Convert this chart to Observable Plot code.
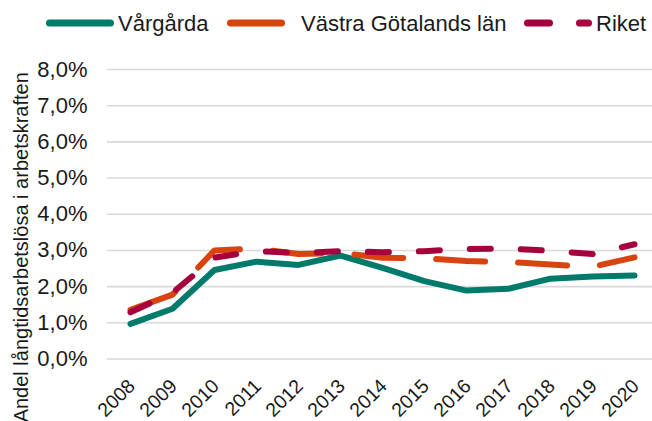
<!DOCTYPE html>
<html>
<head>
<meta charset="utf-8">
<script src="https://cdn.jsdelivr.net/npm/d3@7"></script>
<script src="https://cdn.jsdelivr.net/npm/@observablehq/plot@0.6"></script>
<style>
  html, body { margin: 0; padding: 0; background: #fff; }
  body { width: 652px; height: 421px; overflow: hidden; font-family: "Liberation Sans", Arial, sans-serif; color: #1a1a1a; }
  #legend svg, #chart svg { display: block; }
</style>
</head>
<body>
<div id="legend"></div>
<div id="chart"></div>
<script>
// ---- data ----
const years = [2008, 2009, 2010, 2011, 2012, 2013, 2014, 2015, 2016, 2017, 2018, 2019, 2020];
const vargarda = [0.97, 1.39, 2.46, 2.69, 2.60, 2.86, 2.52, 2.15, 1.89, 1.94, 2.22, 2.28, 2.31];
const vastraGotaland = [1.36, 1.78, 3.00, 3.05, 2.90, 2.93, 2.80, 2.78, 2.71, 2.68, 2.61, 2.55, 2.81];
const riket = [1.29, 1.83, 2.80, 2.98, 2.93, 2.98, 2.95, 2.98, 3.04, 3.05, 2.99, 2.90, 3.17];
const seriesNames = ["Vårgårda", "Västra Götalands län", "Riket"];
const yTicks = [0, 1, 2, 3, 4, 5, 6, 7, 8];
const yTitle = "Andel långtidsarbetslösa i arbetskraften";

// ---- styles ----
const colors = ["#007A6B", "#D8430F", "#A6003D"];
const dashes = [null, "49,33", "21,30"];
const legendDashes = [null, "51,40", "22,30"];
const legendX = [46, 227, 524];   // legend sample left edges (layout)
const seriesValues = [vargarda, vastraGotaland, riket];

const series = seriesNames.map((name, s) => ({
  name, color: colors[s], dash: dashes[s], legendDash: legendDashes[s],
  rows: years.map((year, i) => ({year, value: seriesValues[s][i]}))
}));

const fmt = d => d.toFixed(1).replace(".", ",") + "%";

// ---- legend ----
const lsvg = d3.select("#legend").append("svg")
  .attr("width", 652).attr("height", 44)
  .style("font-family", "'Liberation Sans', Arial, sans-serif");
series.forEach((s, k) => {
  const x0 = legendX[k];
  lsvg.append("line")
    .attr("x1", x0 + 3.5).attr("x2", x0 + 64.5).attr("y1", 23).attr("y2", 23)
    .attr("stroke", s.color).attr("stroke-width", 7)
    .attr("stroke-linecap", "round")
    .attr("stroke-dasharray", s.legendDash);
  lsvg.append("text")
    .attr("x", x0 + (k === 1 ? 74 : 72)).attr("y", 23).attr("dy", "0.36em")
    .attr("font-size", 22).attr("fill", "#1a1a1a")
    .text(s.name);
});

// ---- chart ----
const chart = Plot.plot({
  width: 652,
  height: 377,
  marginLeft: 107,
  marginRight: 0,
  marginTop: 25,
  marginBottom: 62.5,
  style: {fontFamily: "'Liberation Sans', Arial, sans-serif", background: "#fff", color: "#1a1a1a"},
  x: {type: "point", domain: years, range: [128, 635], padding: 0, axis: null},
  y: {domain: [0, 8], axis: null},
  marks: [
    Plot.gridY(yTicks, {stroke: "#d9d9d9", strokeOpacity: 1, strokeWidth: 1.6}),
    Plot.axisY(yTicks, {tickSize: 0, tickPadding: 20, fontSize: 22, tickFormat: fmt, label: null}),
    Plot.text(years, {
      x: d => d, text: d => String(d), frameAnchor: "bottom",
      rotate: -45, textAnchor: "end", lineAnchor: "top", dx: -4, dy: 18.5, fontSize: 19.5
    }),
    ...series.map(s => Plot.line(s.rows, {
      x: "year", y: "value", stroke: s.color, strokeWidth: 6,
      strokeLinecap: "round", strokeLinejoin: "round",
      strokeDasharray: s.dash
    })),
    Plot.text([yTitle], {
      text: d => d, frameAnchor: "left", textAnchor: "middle", lineAnchor: "middle",
      rotate: -90, dx: -86, dy: 33, fontSize: 20
    })
  ]
});
document.getElementById("chart").appendChild(chart);
</script>
</body>
</html>
